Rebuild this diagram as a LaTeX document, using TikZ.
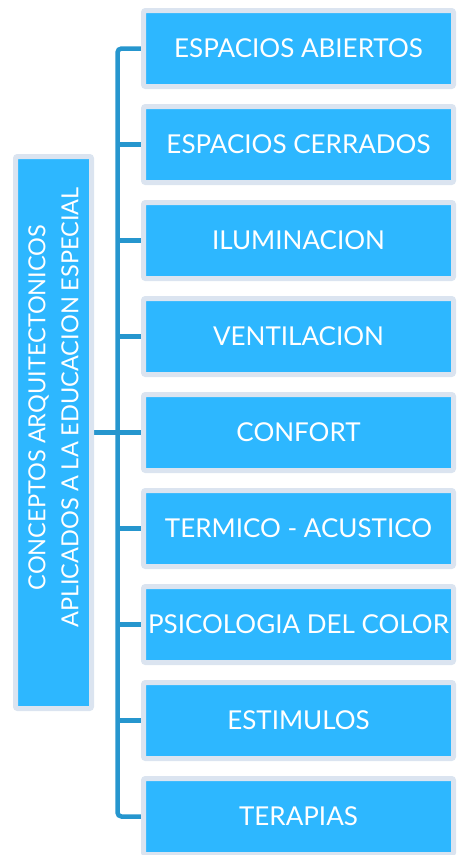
\documentclass[tikz,border=0pt]{standalone}
\usepackage{fontspec}
\setmainfont{Lato}
\usetikzlibrary{positioning,backgrounds}
\definecolor{cajaazul}{RGB}{45,183,255}
\definecolor{bordecaja}{RGB}{219,228,240}
\definecolor{lineaazul}{RGB}{38,150,206}

\begin{document}
\begin{tikzpicture}[x=1pt,y=1pt,node distance=20pt,
                    caja/.style={rectangle,fill=cajaazul,draw=bordecaja,line width=5pt,
                                 rounded corners=2pt,outer sep=0pt,inner sep=0pt,text=white},
                    hoja/.style={caja,minimum width=310pt,minimum height=76pt,
                                 font=\fontsize{26}{30}\selectfont},
                    rama/.style={draw=lineaazul,line width=4.5pt,rounded corners=4pt}]
  \useasboundingbox (0,0) rectangle (457,-855);

  \node[hoja] (abiertos) at (298.5,-48.5) {ESPACIOS ABIERTOS};
  \node[hoja] (cerrados)    [below=of abiertos]    {ESPACIOS CERRADOS};
  \node[hoja] (iluminacion) [below=of cerrados]    {ILUMINACION};
  \node[hoja] (ventilacion) [below=of iluminacion] {VENTILACION};
  \node[hoja] (confort)     [below=of ventilacion] {CONFORT};
  \node[hoja] (termico)     [below=of confort]     {TERMICO - ACUSTICO};
  \node[hoja] (color)       [below=of termico]     {PSICOLOGIA DEL COLOR};
  \node[hoja] (estimulos)   [below=of color]       {ESTIMULOS};
  \node[hoja] (terapias)    [below=of estimulos]   {TERAPIAS};

  \node[caja,minimum width=76pt,minimum height=552pt] (conceptos) [left=52pt of confort] {};
  \node[text=white,rotate=90,align=center,inner sep=0pt,
        font=\fontsize{23.5}{33}\selectfont] (titulo) at ([yshift=25pt]conceptos.center)
        {CONCEPTOS ARQUITECTONICOS\\APLICADOS A LA EDUCACION ESPECIAL};

  \coordinate (tronco) at ([xshift=26pt]conceptos.east);

  \begin{scope}[on background layer]
    \draw[rama] (abiertos.west) -| (tronco) |- (terapias.west);
    \foreach \n in {cerrados,iluminacion,ventilacion,confort,termico,color,estimulos}
      \draw[rama] (tronco |- \n.west) -- (\n.west);
    \draw[rama] (conceptos.east) -- (confort.west);
  \end{scope}
\end{tikzpicture}
\end{document}
